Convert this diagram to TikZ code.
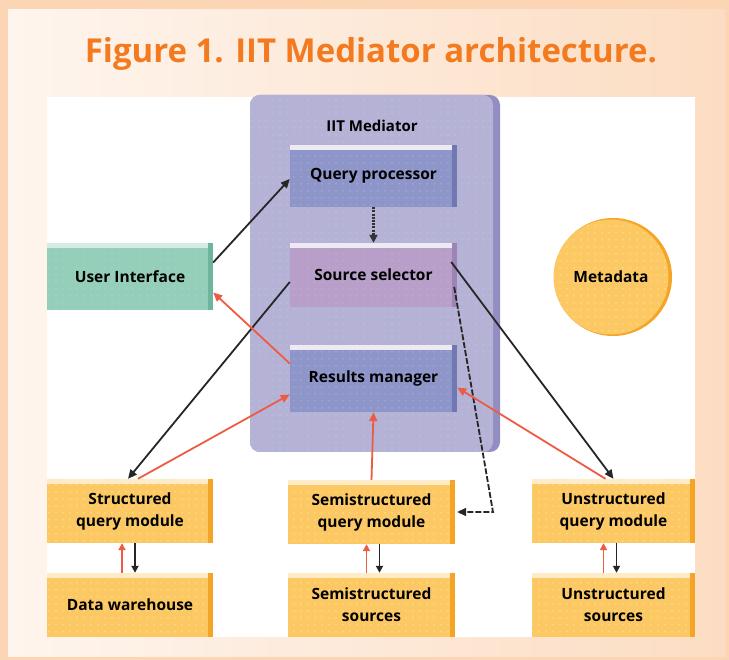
\documentclass[tikz,border=0pt]{standalone}
\usepackage{fontspec}
\usetikzlibrary{arrows.meta,patterns.meta,calc}
\newfontfamily\labelfont{Open Sans}
\newfontfamily\titlefont{Open Sans}

\definecolor{peachband}{HTML}{FCD5B5}
\definecolor{peachL}{HTML}{FEF5EE}
\definecolor{peachR}{HTML}{FCDDC3}
\definecolor{titleorange}{HTML}{F47A20}
\definecolor{lavender}{HTML}{B6B2D6}
\definecolor{lavside}{HTML}{928EC2}
\definecolor{lavdot}{HTML}{A6D3E2}
\definecolor{periw}{HTML}{8E95C8}
\definecolor{periwside}{HTML}{7078B4}
\definecolor{periwdot}{HTML}{A4B6DA}
\definecolor{mauve}{HTML}{B79FCA}
\definecolor{mauveside}{HTML}{9C84B6}
\definecolor{mauvedot}{HTML}{D7A8C8}
\definecolor{teal}{HTML}{95CEB9}
\definecolor{tealside}{HTML}{6DB59C}
\definecolor{tealdot}{HTML}{A8D6E6}
\definecolor{gold}{HTML}{FCC864}
\definecolor{goldside}{HTML}{F5A525}
\definecolor{golddot}{HTML}{FFE89C}
\definecolor{bevel}{HTML}{EEEAF2}
\definecolor{redarrow}{HTML}{EE5B45}

\tikzset{
  blockbox/.style={minimum width=#1, align=center, inner sep=2pt,
    font=\labelfont\bfseries\fontsize{15.5}{21}\selectfont},
  tex/.style={postaction={pattern={Dots[distance=7pt,radius=0.75pt]}, pattern color=#1}},
  blk/.style={draw=black!85, line width=1.8pt, -{Triangle[length=9pt,width=8pt]}},
  redl/.style={draw=redarrow, line width=1.8pt, -{Triangle[length=9pt,width=8pt]}},
  shortblk/.style={draw=black!85, line width=1.8pt, -{Triangle[length=7pt,width=7pt]}},
  shortred/.style={draw=redarrow, line width=1.8pt, -{Triangle[length=7pt,width=7pt]}},
}

% 3D edges of a block: light bevel on top, darker face on the right
\newcommand{\blockedges}[3]{%
  \fill[#2] (#1.north west) rectangle ([yshift=-5pt]#1.north east);
  \fill[#3] ([xshift=-5pt]#1.north east) rectangle (#1.south east);
}

\begin{document}
\begin{tikzpicture}[x=1pt,y=-1pt]
\useasboundingbox (0,0) rectangle (729,660);

% page frame with warm gradient
\fill[peachband] (0,0) rectangle (729,660);
\shade[left color=peachL, right color=peachR] (8,10) rectangle (725,656);

% title
\node[text=titleorange, font=\titlefont\bfseries] (title) at (371,54)
  {\resizebox{572pt}{!}{Figure 1. IIT Mediator architecture.}};

% white drawing panel
\fill[white] (47,97) rectangle (695,637);

% mediator container
\fill[lavside, rounded corners=10pt] (250,95) rectangle (500,452);
\path[fill=lavender, tex=lavdot, rounded corners=10pt] (250,95) rectangle (493,452);
\node[font=\labelfont\bfseries\fontsize{15}{18}\selectfont] (medlabel) at (372,126) {IIT Mediator};

% mediator components
\node[blockbox=167pt, minimum height=62pt, fill=periw, tex=periwdot] (qp) at (373.5,176) {Query processor};
\blockedges{qp}{bevel}{periwside}

\node[blockbox=167pt, minimum height=64pt, fill=mauve, tex=mauvedot] (ss) at (373.5,275) {Source selector};
\blockedges{ss}{bevel}{mauveside}

\node[blockbox=167pt, minimum height=67pt, fill=periw, tex=periwdot] (rm) at (373.5,378.5) {Results manager};
\blockedges{rm}{bevel}{periwside}

% user interface
\node[blockbox=166pt, minimum height=67pt, fill=teal, tex=tealdot] (ui) at (130,276.5) {User Interface};
\blockedges{ui}{teal!40!white}{tealside}

% metadata
\fill[goldside] (613,277) circle (59pt);
\node[circle, minimum size=115pt, fill=gold, tex=golddot, font=\labelfont\bfseries\fontsize{15.5}{21}\selectfont] (meta) at (611,277) {Metadata};

% query modules and sources
\newcommand{\goldblock}[4]{%
  \node[blockbox=#4, minimum height=64pt, fill=gold, tex=golddot,
        font=\labelfont\bfseries\fontsize{15.5}{22}\selectfont] (#1) at (#2) {#3};
  \blockedges{#1}{gold!35!white}{goldside}
}
\goldblock{sq}{130,511}{Structured\\query module}{166pt}
\goldblock{dw}{130,605}{Data warehouse}{166pt}
\goldblock{semq}{371.5,512}{Semistructured\\query module}{167pt}
\goldblock{sems}{371.5,605}{Semistructured\\sources}{167pt}
\goldblock{uq}{613.5,511}{Unstructured\\query module}{163pt}
\goldblock{us}{613.5,605}{Unstructured\\sources}{163pt}

% control flow (black)
\draw[blk] ([yshift=14pt]ui.east) -- ([yshift=-3pt]qp.west);
\draw[draw=black!80, line width=2.2pt, dash pattern=on 2pt off 1.2pt,
      -{Triangle[length=8pt,width=8pt]}] (qp.south) -- (ss.north);
\draw[blk] ([yshift=-7pt]ss.west) -- ([xshift=-2pt]sq.north);
\draw[blk] ([xshift=-6pt,yshift=13pt]ss.east) -- (uq.north);
\coordinate (bend) at (493,512);
\draw[draw=black!85, line width=1.8pt, dash pattern=on 6pt off 2pt,
      -{Triangle[length=9pt,width=8pt]}] ([xshift=-3pt,yshift=-12pt]ss.east) -- (bend) -- ([xshift=2pt]semq.east |- bend);

% results flow (red)
\draw[redl] ([yshift=15pt]rm.west) -- ([yshift=-16pt]ui.east);
\draw[redl] ([xshift=8pt]sq.north) -- ([yshift=-16pt]rm.west);
\draw[redl] (semq.north) -- (rm.south);
\draw[redl] ([xshift=-8pt]uq.north) -- ([yshift=-9pt]rm.east);

% module <-> source exchanges
\draw[shortred] ([xshift=-8pt]dw.north) -- ([xshift=-8pt]sq.south);
\draw[shortblk] ([xshift=5pt]sq.south) -- ([xshift=5pt]dw.north);
\draw[shortred] ([xshift=-5pt]sems.north) -- ([xshift=-5pt]semq.south);
\draw[shortblk] ([xshift=8pt]semq.south) -- ([xshift=8pt]sems.north);
\draw[shortred] ([xshift=-10pt]us.north) -- ([xshift=-10pt]uq.south);
\draw[shortblk] ([xshift=3pt]uq.south) -- ([xshift=3pt]us.north);
\end{tikzpicture}
\end{document}
